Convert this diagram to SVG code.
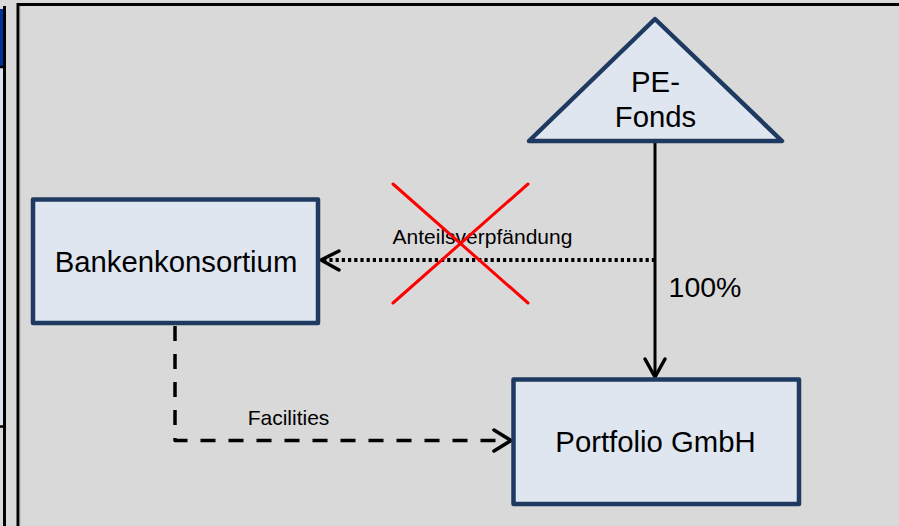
<svg xmlns="http://www.w3.org/2000/svg" width="899" height="526" viewBox="0 0 899 526">
  <style>
    .node { fill: #dfe6f0; stroke: #1f3a60; stroke-width: 4.5; stroke-linejoin: round; }
    .label { font-family: "Liberation Sans", Arial, sans-serif; fill: #000; text-anchor: middle; }
    .big { font-size: 29.3px; }
    .pct { font-size: 28.5px; }
    .small { font-size: 21px; }
    .conn { fill: none; stroke: #000; }
    .head { fill: none; stroke: #000; stroke-width: 3.5; stroke-linecap: round; stroke-linejoin: round; }
  </style>

  <!-- page background -->
  <rect x="0" y="0" width="899" height="526" fill="#d9d9d9"/>

  <!-- neighbouring slide strip on the left -->
  <g id="side-strip">
    <rect x="0" y="66" width="4" height="360" fill="#dce3ee"/>
    <rect x="0" y="9" width="4" height="57" fill="#00339a"/>
    <line x1="0" y1="67" x2="5" y2="67" stroke="#000" stroke-width="2.5"/>
    <line x1="0" y1="426.5" x2="5" y2="426.5" stroke="#000" stroke-width="2.5"/>
    <line x1="4.5" y1="6" x2="4.5" y2="526" stroke="#000" stroke-width="3"/>
  </g>

  <!-- frame -->
  <rect x="18" y="4.5" width="900" height="540" fill="#d9d9d9" stroke="#000" stroke-width="3"/>
  <line x1="19.8" y1="6" x2="19.8" y2="526" stroke="#8a8a8a" stroke-width="0.8"/>

  <!-- connectors -->
  <g id="connectors">
    <!-- ownership 100% -->
    <line class="conn" x1="655" y1="143" x2="655" y2="376" stroke-width="3"/>
    <polyline class="head" points="645,359 655,377 665,359"/>
    <text class="label pct" x="705" y="297">100%</text>

    <!-- share pledge (crossed out) -->
    <line class="conn" x1="655" y1="260" x2="324" y2="260" stroke-width="4" stroke-dasharray="3.2 3"/>
    <polyline class="head" points="339,251 321,260 339,270"/>
    <text class="label small" x="482.5" y="244">Anteilsverpfändung</text>
    <g id="cross" stroke="#ff0000" stroke-width="3" stroke-linecap="round">
      <line x1="393" y1="184" x2="528" y2="303"/>
      <line x1="528" y1="184" x2="393" y2="303"/>
    </g>

    <!-- facilities -->
    <polyline class="conn" points="175,326 175,440.5 509,440.5" stroke-width="3.5" stroke-dasharray="15 13" stroke-linejoin="round"/>
    <polyline class="head" points="494,430 511,440.5 494,451"/>
    <text class="label small" x="288.5" y="425">Facilities</text>
  </g>

  <!-- nodes -->
  <g id="pe-fonds">
    <polygon class="node" points="655,19 782,141 529,141"/>
    <text class="label big" x="655.5" y="92">PE-</text>
    <text class="label big" x="655.5" y="127">Fonds</text>
  </g>

  <g id="bankenkonsortium">
    <rect class="node" x="33" y="199.5" width="285" height="123.5"/>
    <text class="label big" x="176" y="272">Bankenkonsortium</text>
  </g>

  <g id="portfolio-gmbh">
    <rect class="node" x="513.5" y="379.5" width="285.5" height="124.5"/>
    <text class="label big" x="655.5" y="452">Portfolio GmbH</text>
  </g>
</svg>
